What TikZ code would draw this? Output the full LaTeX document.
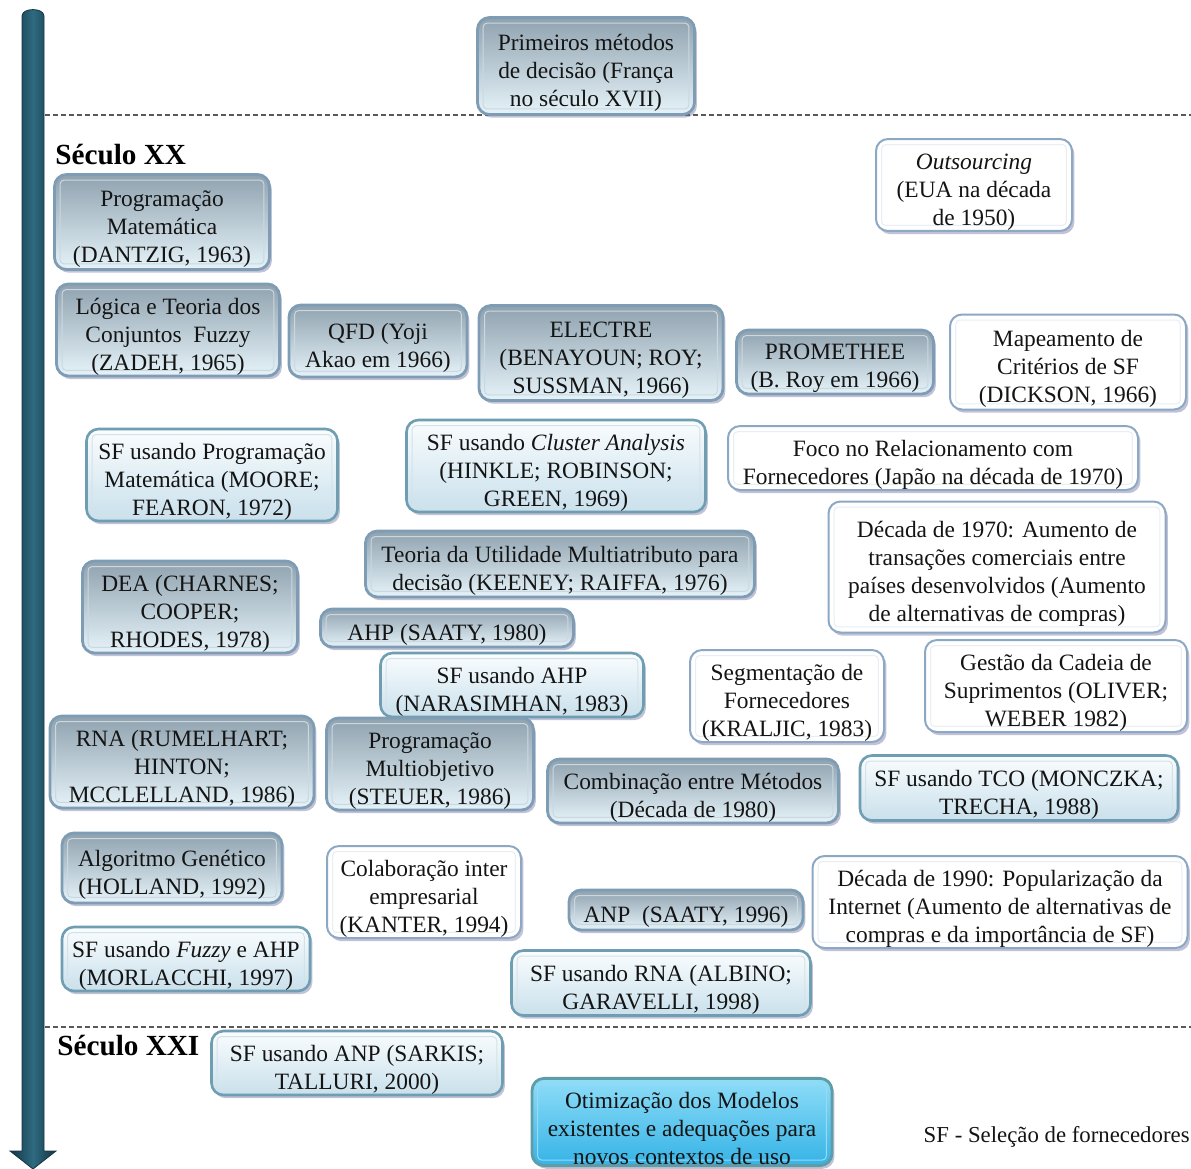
\documentclass[tikz,border=0pt]{standalone}
\usepackage{fontspec}
\setmainfont{Liberation Serif}
\usetikzlibrary{shadows}

\definecolor{methodtop}{HTML}{8FA2AF}
\definecolor{methodbot}{HTML}{E6F3F9}
\definecolor{methodline}{HTML}{7E9DB4}
\definecolor{sftop}{HTML}{FAFDFE}
\definecolor{sfbot}{HTML}{C9E0EC}
\definecolor{sfline}{HTML}{6F9DB2}
\definecolor{ctxline}{HTML}{8DA8C4}
\definecolor{endtop}{HTML}{8FDDF8}
\definecolor{endbot}{HTML}{35B3E6}
\definecolor{endline}{HTML}{5E9DA8}
\definecolor{arrowdark}{HTML}{143644}
\definecolor{arrowmid}{HTML}{2E6A80}
\definecolor{ink}{HTML}{141414}

% taller first line, so the text block sits a little lower in its box
\newcommand\toppad{\rule{0pt}{14.5pt}}

\tikzset{
  sz/.style 2 args={minimum width=#1*0.5pt, minimum height=#2*0.5pt},
  innerframe/.style={path picture={
      \draw[#1, line width=0.5pt, rounded corners=2pt]
        ([shift={(2.8pt,2.8pt)}]path picture bounding box.south west) rectangle
        ([shift={(-2.8pt,-2.8pt)}]path picture bounding box.north east);}},
  box/.style={rounded corners=6pt, align=center, inner sep=0.5pt, text=ink,
    font=\fontsize{11.7}{14}\selectfont,
    drop shadow={shadow xshift=1.2pt, shadow yshift=-1.6pt, opacity=.4, fill=gray!80!blue}},
  method/.style={box, draw=methodline, line width=1.4pt,
    top color=methodtop, bottom color=methodbot, innerframe=white!60!methodline},
  sfbox/.style={box, draw=sfline, line width=1.3pt,
    top color=sftop, bottom color=sfbot, innerframe=white!70!sfline},
  context/.style={box, draw=ctxline, line width=1pt, fill=white,
    innerframe=white!80!ctxline},
  final/.style={box, draw=endline, line width=1.4pt,
    top color=endtop, bottom color=endbot, innerframe=white!50!endbot},
  century/.style={font=\fontsize{14.6}{16}\selectfont\bfseries, anchor=west, inner sep=0pt},
  divider/.style={gray!70!black, line width=0.6pt, dash pattern=on 2.4pt off 1.6pt},
}

\begin{document}
\begin{tikzpicture}[x=0.5pt, y=-0.5pt]
\useasboundingbox (0,0) rectangle (1191,1169);

% time axis
\path[left color=arrowdark, right color=arrowdark, middle color=arrowmid, draw=arrowdark, line width=0.4pt]
  (22,16) to[out=90,in=90] (44,16) -- (44,1151) -- (56,1151) -- (33,1169) -- (10,1151) -- (22,1151) -- cycle;

% century dividers
\coordinate (d1a) at (45,115);  \coordinate (d1b) at (1191,115);
\coordinate (d2a) at (45,1027); \coordinate (d2b) at (1191,1027);
\draw[divider] (d1a) -- (d1b);
\draw[divider] (d2a) -- (d2b);

\node[century] (sXX)  at (55,155)  {Século XX};
\node[century] (sXXI) at (57,1046) {Século XXI};

% before the 20th century
\node[method, sz={217}{97}] (prim) at (586,66) {\toppad Primeiros métodos\\de decisão (França\\no século XVII)};

% 20th century
\node[context, sz={196}{79}] (outs) at (974,185) {\toppad\textit{Outsourcing}\\(EUA na década\\de 1950)};
\node[method, sz={215}{95}] (pm) at (162,222) {\toppad Programação\\Matemática\\(DANTZIG, 1963)};
\node[method, sz={223}{86}] (fuzzy) at (168,330) {\toppad Lógica e Teoria dos\\Conjuntos\ \ Fuzzy\\(ZADEH, 1965)};
\node[method, sz={178}{72}] (qfd) at (378,341) {\toppad QFD (Yoji\\Akao em 1966)};
\node[method, sz={244}{95}] (electre) at (601,353) {\toppad ELECTRE\\(BENAYOUN; ROY;\\SUSSMAN, 1966)};
\node[method, sz={197}{57}] (prom) at (835,362) {\toppad PROMETHEE\\(B. Roy em 1966)};
\node[context, sz={236}{95}] (dick) at (1068,362) {\toppad Mapeamento de\\Critérios de SF\\(DICKSON, 1966)};

\node[sfbox, sz={251}{84}] (sfpm) at (212,475) {\toppad SF usando Programação\\Matemática (MOORE;\\FEARON, 1972)};
\node[sfbox, sz={299}{89}] (sfca) at (556,466) {\toppad SF usando \textit{Cluster Analysis}\\(HINKLE; ROBINSON;\\GREEN, 1969)};
\node[context, sz={410}{63}] (foco) at (933,458) {\toppad Foco no Relacionamento com\\Fornecedores (Japão na década de 1970)};
\node[context, sz={337}{131}] (d70) at (997,567) {\toppad Década de 1970: Aumento de\\transações comerciais entre\\países desenvolvidos (Aumento\\de alternativas de compras)};
\node[method, sz={389}{66}] (maut) at (560,564) {\toppad Teoria da Utilidade Multiatributo para\\decisão (KEENEY; RAIFFA, 1976)};
\node[method, sz={215}{91}] (dea) at (190,607) {\toppad DEA (CHARNES;\\COOPER;\\RHODES, 1978)};
\node[method, sz={253}{38}] (ahp) at (447,628) {\toppad AHP (SAATY, 1980)};

\node[sfbox, sz={263}{55}] (sfahp) at (512,685) {\toppad SF usando AHP\\(NARASIMHAN, 1983)};
\node[context, sz={194}{85}] (segm) at (787,696) {\toppad Segmentação de\\Fornecedores\\(KRALJIC, 1983)};
\node[context, sz={262}{82}] (scm) at (1056,686) {\toppad Gestão da Cadeia de\\Suprimentos (OLIVER;\\WEBER 1982)};
\node[method, sz={264}{88}] (rna) at (182,762) {\toppad RNA (RUMELHART;\\HINTON;\\MCCLELLAND, 1986)};
\node[method, sz={207}{84}] (pmo) at (430,764) {\toppad Programação\\Multiobjetivo\\(STEUER, 1986)};
\node[method, sz={291}{58}] (comb) at (693,791) {\toppad Combinação entre Métodos\\(Década de 1980)};
\node[sfbox, sz={318}{65}] (sftco) at (1019,788) {\toppad SF usando TCO (MONCZKA;\\TRECHA, 1988)};

\node[method, sz={220}{70}] (ag) at (172,868) {\toppad Algoritmo Genético\\(HOLLAND, 1992)};
\node[context, sz={194}{87}] (colab) at (424,892) {\toppad Colaboração inter\\empresarial\\(KANTER, 1994)};
\node[method, sz={234}{40}] (anp) at (686,910) {\toppad ANP\ \ (SAATY, 1996)};
\node[context, sz={375}{91}] (d90) at (1000,902) {\toppad Década de 1990: Popularização da\\Internet (Aumento de alternativas de\\compras e da importância de SF)};
\node[sfbox, sz={248}{62}] (sffz) at (186,959) {\toppad SF usando \textit{Fuzzy} e AHP\\(MORLACCHI, 1997)};
\node[sfbox, sz={299}{65}] (sfrna) at (661,983) {\toppad SF usando RNA (ALBINO;\\GARAVELLI, 1998)};

% 21st century
\node[sfbox, sz={291}{57}] (sfanp) at (357,1063) {\toppad SF usando ANP (SARKIS;\\TALLURI, 2000)};
\node[final, sz={300}{85}] (otim) at (682,1122) {\toppad Otimização dos Modelos\\existentes e adequações para\\novos contextos de uso};

% legend
\node[anchor=east, inner sep=0pt, font=\fontsize{11.4}{14}\selectfont, text=ink] (leg) at (1190,1137) {SF - Seleção de fornecedores};
\end{tikzpicture}
\end{document}
